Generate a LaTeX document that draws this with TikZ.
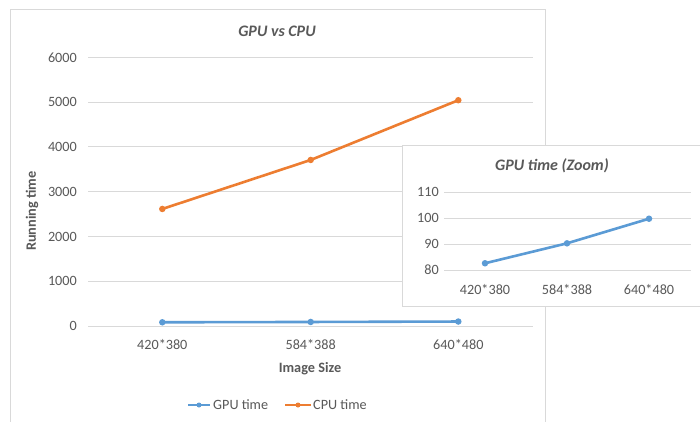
\documentclass[tikz,border=0pt]{standalone}
\usepackage{fontspec}
\setmainfont{Carlito}
\definecolor{gpu}{HTML}{5B9BD5}
\definecolor{cpu}{HTML}{ED7D31}
\definecolor{gridc}{HTML}{D9D9D9}
\definecolor{txt}{HTML}{595959}
\begin{document}
\begin{tikzpicture}[x=1pt,y={(0,-1pt)},
  gridline/.style={draw=gridc,line width=1pt},
  frame/.style={draw=gridc,line width=1pt},
  tick/.style={text=txt,font=\fontsize{14.2}{16}\selectfont,inner sep=0pt},
  ttl/.style={text=txt,font=\fontsize{16}{18}\selectfont\bfseries\itshape,inner sep=0pt},
  axttl/.style={text=txt,font=\fontsize{14.3}{16}\selectfont\bfseries,inner sep=0pt},
  series/.style={line width=2.6pt,line cap=round,line join=round},
  mk/.style={circle,inner sep=0pt,minimum size=6.5pt},
]
\useasboundingbox (0,0) rectangle (700,422);
\clip (0,0) rectangle (700,422);
\fill[white] (0,0) rectangle (700,422);
% outer chart frame
\draw[frame] (10,10) rectangle (545,440);
% title
\node[ttl] (title) at (277,31) {GPU vs CPU};
% gridlines main
\foreach \v/\n in {0/g0,1000/g1,2000/g2,3000/g3,4000/g4,5000/g5,6000/g6}{
  \coordinate (\n l) at (88,{326-\v*0.04475});
  \coordinate (\n r) at (533,{326-\v*0.04475});
  \draw[gridline] (\n l) -- (\n r);
  \node[tick,anchor=east] (\n t) at (77,{326-\v*0.04475}) {\v};
}
% axis titles
\node[axttl,rotate=90] (ylab) at (32,211) {Running time};
\node[axttl] (xlab) at (310,369) {Image Size};
% categories
\node[tick] (c1) at (162.3,345) {420*380};
\node[tick] (c2) at (310.7,345) {584*388};
\node[tick] (c3) at (458.3,345) {640*480};
% CPU series
\coordinate (p1) at (162.3,{326-2615*0.04475});
\coordinate (p2) at (310.7,{326-3710*0.04475});
\coordinate (p3) at (458.3,{326-5045*0.04475});
\draw[series,cpu] (p1) -- (p2) -- (p3);
\foreach \p in {p1,p2,p3} \node[mk,fill=cpu] at (\p) {};
% GPU series
\coordinate (q1) at (162.3,{326-83*0.04475});
\coordinate (q2) at (310.7,{326-90*0.04475});
\coordinate (q3) at (458.3,{326-100*0.04475});
\draw[series,gpu] (q1) -- (q2) -- (q3);
\foreach \p in {q1,q2,q3} \node[mk,fill=gpu] at (\p) {};
% legend
\coordinate (la1) at (188,405);
\coordinate (la2) at (210,405);
\draw[series,gpu,line cap=butt] (la1) -- (la2);
\node[mk,fill=gpu,minimum size=5pt] (lm1) at (199,405) {};
\node[tick,anchor=west] (lt1) at (213,405) {GPU time};
\coordinate (lb1) at (285,405);
\coordinate (lb2) at (311,405);
\draw[series,cpu,line cap=butt] (lb1) -- (lb2);
\node[mk,fill=cpu,minimum size=5pt] (lm2) at (298,405) {};
\node[tick,anchor=west] (lt2) at (313,405) {CPU time};
% inset
\draw[frame,fill=white] (402,146) rectangle (720,306);
\node[ttl] (ititle) at (552,166) {GPU time (Zoom)};
\foreach \v/\n in {80/h0,90/h1,100/h2,110/h3}{
  \coordinate (\n l) at (444,{270-(\v-80)*2.59});
  \coordinate (\n r) at (691,{270-(\v-80)*2.59});
  \draw[gridline] (\n l) -- (\n r);
  \node[tick,anchor=east] (\n t) at (439,{270-(\v-80)*2.59}) {\v};
}
\node[tick] (d1) at (485,290) {420*380};
\node[tick] (d2) at (567,290) {584*388};
\node[tick] (d3) at (649,290) {640*480};
\coordinate (r1) at (485,{270-(82.6-80)*2.59});
\coordinate (r2) at (567,{270-(90.3-80)*2.59});
\coordinate (r3) at (649,{270-(99.8-80)*2.59});
\draw[series,gpu] (r1) -- (r2) -- (r3);
\foreach \p in {r1,r2,r3} \node[mk,fill=gpu] at (\p) {};
\end{tikzpicture}
\end{document}
